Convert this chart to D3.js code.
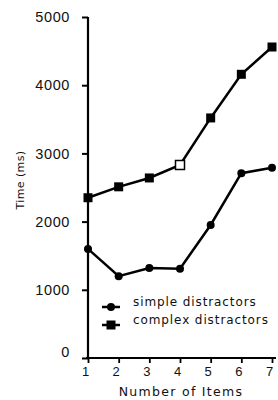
<!DOCTYPE html>
<html>
<head>
<meta charset="utf-8">
<script src="https://cdn.jsdelivr.net/npm/d3@7"></script>
<style>
  body { margin: 0; background: #fff; }
  svg { display: block; font-family: "DejaVu Sans", sans-serif; }
</style>
</head>
<body>
<div id="vis"></div>
<script>
// values
const items = [1, 2, 3, 4, 5, 6, 7];
const simpleTimes = [1600, 1200, 1320, 1310, 1950, 2710, 2790];
const complexTimes = [2350, 2510, 2640, 2830, 3520, 4160, 4560];
const yTicks = [0, 1000, 2000, 3000, 4000, 5000];
const legendLabels = ["simple distractors", "complex distractors"];

const WIDTH = 278;
const HEIGHT = 400;

const svg = d3.select("#vis")
  .append("svg")
  .attr("width", WIDTH)
  .attr("height", HEIGHT);

const x = d3.scaleLinear().domain([1, 7]).range([88, 272]);
const y = d3.scaleLinear().domain([0, 5000]).range([358, 17]);

// y axis
const yAxis = svg.append("g")
  .attr("transform", "translate(88,0)")
  .call(d3.axisLeft(y).tickValues(yTicks).tickSize(6).tickPadding(12).tickFormat(d3.format("d")));
yAxis.select(".domain").attr("stroke-width", 2.2).attr("d", `M0,${y(5000)}V${y(0)}`);
yAxis.selectAll(".tick line").attr("stroke-width", 2);
yAxis.selectAll(".tick text").attr("font-size", 14.5).attr("letter-spacing", 0.6).attr("fill", "#111");
yAxis.selectAll(".tick").filter(d => d === 0).select("text").attr("dy", "-0.1em");

// x axis
const xAxis = svg.append("g")
  .attr("transform", `translate(0,${y(0)})`)
  .call(d3.axisBottom(x).tickValues(items).tickSize(5).tickPadding(4).tickFormat(d3.format("d")));
xAxis.select(".domain").attr("stroke-width", 2.2).attr("d", `M${x(1) - 2},0H${x(7) + 4}`);
xAxis.selectAll(".tick line").attr("stroke-width", 1.8);
xAxis.selectAll(".tick text").attr("font-size", 13).attr("fill", "#111").attr("dx", -3);

// axis titles
svg.append("text")
  .attr("transform", "translate(24,180) rotate(-90)")
  .attr("text-anchor", "middle")
  .attr("font-size", 11)
  .attr("letter-spacing", 0.4)
  .attr("fill", "#111")
  .text("Time (ms)");

svg.append("text")
  .attr("x", 181)
  .attr("y", 396)
  .attr("text-anchor", "middle")
  .attr("font-size", 12.5)
  .attr("letter-spacing", 1.3)
  .attr("fill", "#111")
  .text("Number of Items");

const line = d3.line()
  .x((d, i) => x(items[i]))
  .y(d => y(d));

// complex series
svg.append("path")
  .datum(complexTimes)
  .attr("d", line)
  .attr("fill", "none")
  .attr("stroke", "#000")
  .attr("stroke-width", 2.5);

svg.selectAll(".complexPt")
  .data(complexTimes)
  .join("rect")
  .attr("class", "complexPt")
  .attr("x", (d, i) => x(items[i]) - 4.5)
  .attr("y", d => y(d) - 4.5)
  .attr("width", 9)
  .attr("height", 9)
  .attr("fill", (d, i) => i === 3 ? "#fff" : "#000")
  .attr("stroke", "#000")
  .attr("stroke-width", (d, i) => i === 3 ? 1.5 : 0);

// simple series
svg.append("path")
  .datum(simpleTimes)
  .attr("d", line)
  .attr("fill", "none")
  .attr("stroke", "#000")
  .attr("stroke-width", 2.5);

svg.selectAll(".simplePt")
  .data(simpleTimes)
  .join("circle")
  .attr("class", "simplePt")
  .attr("cx", (d, i) => x(items[i]))
  .attr("cy", d => y(d))
  .attr("r", 4)
  .attr("fill", "#000");

// legend
const legend = svg.append("g");
legendLabels.forEach((label, i) => {
  const ly = 307 + i * 18;
  legend.append("line")
    .attr("x1", 102).attr("x2", 120)
    .attr("y1", ly).attr("y2", ly)
    .attr("stroke", "#000").attr("stroke-width", 2.5);
  if (i === 0) {
    legend.append("circle").attr("cx", 111).attr("cy", ly).attr("r", 4).attr("fill", "#000");
  } else {
    legend.append("rect").attr("x", 106.5).attr("y", ly - 4.5).attr("width", 9).attr("height", 9).attr("fill", "#000");
  }
  legend.append("text")
    .attr("x", 133)
    .attr("y", ly - 1)
    .attr("font-size", 12)
    .attr("letter-spacing", 0.9)
    .attr("fill", "#111")
    .text(label);
});
</script>
</body>
</html>
